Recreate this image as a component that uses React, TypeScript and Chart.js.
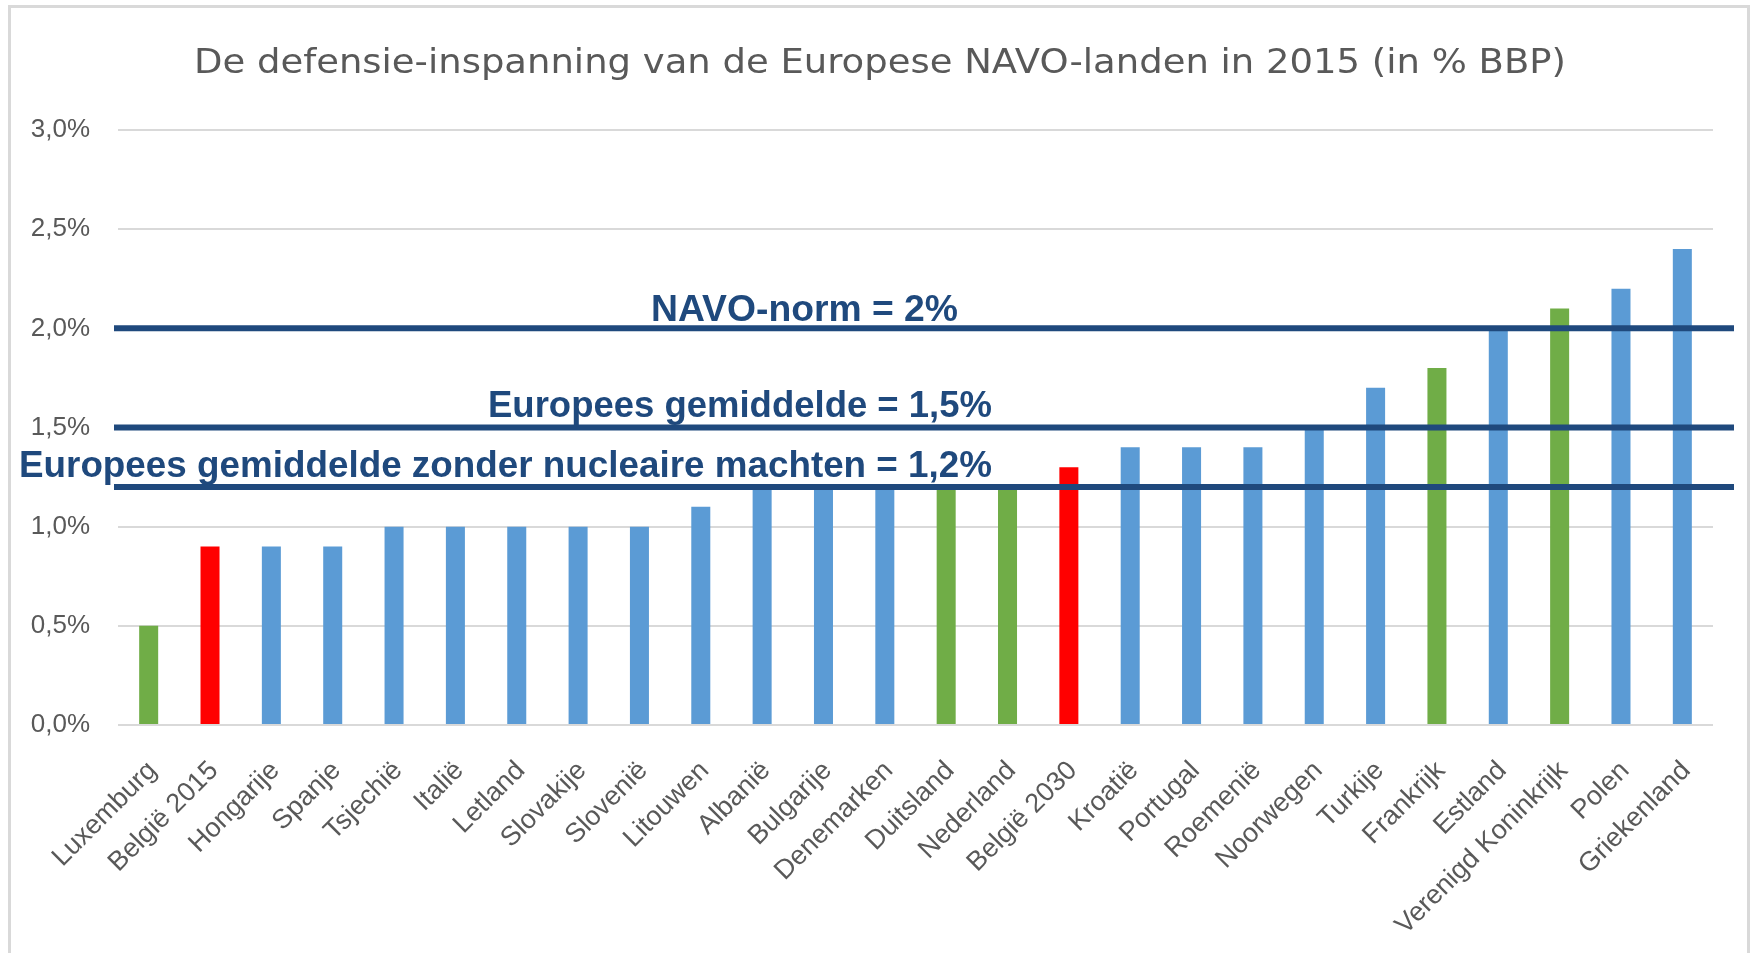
import React, { useEffect, useRef } from "react";
import { Chart, registerables } from "chart.js";

Chart.register(...registerables);

// ---- data ----
const chartTitle = "De defensie-inspanning van de Europese NAVO-landen in 2015 (in % BBP)";

const categories = [
  "Luxemburg", "België 2015", "Hongarije", "Spanje", "Tsjechië", "Italië", "Letland",
  "Slovakije", "Slovenië", "Litouwen", "Albanië", "Bulgarije", "Denemarken", "Duitsland",
  "Nederland", "België 2030", "Kroatië", "Portugal", "Roemenië", "Noorwegen", "Turkije",
  "Frankrijk", "Estland", "Verenigd Koninkrijk", "Polen", "Griekenland",
];

const defenceSpending = [
  0.5, 0.9, 0.9, 0.9, 1.0, 1.0, 1.0,
  1.0, 1.0, 1.1, 1.2, 1.2, 1.2, 1.2,
  1.2, 1.3, 1.4, 1.4, 1.4, 1.5, 1.7,
  1.8, 2.0, 2.1, 2.2, 2.4,
];

const belgiumBars = ["België 2015", "België 2030"];
const comparisonBars = ["Luxemburg", "Duitsland", "Nederland", "Frankrijk", "Verenigd Koninkrijk"];

const referenceValues = [2.0, 1.5, 1.2];
const referenceLabels = [
  "NAVO-norm = 2%",
  "Europees gemiddelde = 1,5%",
  "Europees gemiddelde zonder nucleaire machten = 1,2%",
];

const yTickLabels = ["0,0%", "0,5%", "1,0%", "1,5%", "2,0%", "2,5%", "3,0%"];

// ---- styles ----
const BLUE = "#5B9BD5";
const GREEN = "#70AD47";
const RED = "#FF0000";
const NAVY = "#1F497D";
const GREY_TEXT = "#595959";
const GRID = "#D9D9D9";

// label layout: [right x, offset of baseline above line centre, target width]
const refLabelLayout = [
  [958, 7, 307],
  [992, 11, 504],
  [992, 10, 973],
];

function fillFitted(ctx: CanvasRenderingContext2D, text: string, leftX: number, baseY: number, targetW: number) {
  const w = ctx.measureText(text).width;
  ctx.save();
  ctx.translate(leftX, baseY);
  ctx.scale(targetW / w, 1);
  ctx.textAlign = "left";
  ctx.textBaseline = "alphabetic";
  ctx.fillText(text, 0, 0);
  ctx.restore();
}

const referencePlugin = {
  id: "referenceLines",
  afterDatasetsDraw(chart: any) {
    const { ctx, chartArea, scales } = chart;
    const y = scales.y;
    ctx.save();
    referenceValues.forEach((v) => {
      const py = y.getPixelForValue(v);
      ctx.strokeStyle = NAVY;
      ctx.lineWidth = 6;
      ctx.beginPath();
      ctx.moveTo(chartArea.left - 4, py);
      ctx.lineTo(chartArea.right + 21, py);
      ctx.stroke();
    });
    ctx.fillStyle = NAVY;
    ctx.font = "bold 36px 'Liberation Sans', Arial, sans-serif";
    referenceValues.forEach((v, i) => {
      const py = y.getPixelForValue(v);
      const [rx, off, tw] = refLabelLayout[i];
      fillFitted(ctx, referenceLabels[i], rx - tw, py - off, tw);
    });
    ctx.restore();
  },
};

const titlePlugin = {
  id: "stretchedTitle",
  afterDraw(chart: any) {
    const { ctx } = chart;
    ctx.save();
    ctx.fillStyle = GREY_TEXT;
    ctx.font = "33px 'DejaVu Sans', sans-serif";
    const tw = 1372;
    fillFitted(ctx, chartTitle, 880 - tw / 2, 73, tw);
    ctx.restore();
  },
};

export default function App() {
  const canvasRef = useRef<HTMLCanvasElement | null>(null);

  useEffect(() => {
    if (!canvasRef.current) return;
    Chart.defaults.font.family = "'Liberation Sans', Arial, sans-serif";
    const colors = categories.map((c) =>
      belgiumBars.includes(c) ? RED : comparisonBars.includes(c) ? GREEN : BLUE
    );
    const chart = new Chart(canvasRef.current, {
      type: "bar",
      data: {
        labels: categories,
        datasets: [
          {
            label: chartTitle,
            data: defenceSpending,
            backgroundColor: colors,
            borderWidth: 0,
            barPercentage: 0.31,
            categoryPercentage: 1,
          },
        ],
      },
      options: {
        animation: false,
        responsive: true,
        maintainAspectRatio: false,
        layout: { padding: { top: 130, left: 10, right: 41, bottom: 0 } },
        plugins: {
          legend: { display: false },
          title: { display: false },
          tooltip: { enabled: false },
        },
        scales: {
          x: {
            grid: { display: false, drawTicks: false },
            border: { display: false },
            ticks: {
              color: GREY_TEXT,
              font: { size: 27 },
              minRotation: 45,
              maxRotation: 45,
              autoSkip: false,
              padding: 30,
              labelOffset: 4,
            },
            afterFit: (s: any) => {
              s.height = 228;
            },
          },
          y: {
            min: 0,
            max: 3,
            ticks: {
              stepSize: 0.5,
              color: GREY_TEXT,
              font: { size: 26 },
              padding: 28,
              callback: (_v: any, i: number) => yTickLabels[i],
            },
            grid: { color: GRID, lineWidth: 2, drawTicks: false },
            border: { display: false },
            afterFit: (s: any) => {
              s.width = 108;
            },
          },
        },
      },
      plugins: [referencePlugin, titlePlugin],
    });
    return () => chart.destroy();
  }, []);

  return (
    <div style={{ position: "fixed", left: 0, top: 0, width: 1754, height: 953, overflow: "hidden", background: "#fff" }}>
      <div
        style={{
          position: "absolute",
          left: 8,
          top: 5,
          width: 1742,
          height: 948,
          boxSizing: "border-box",
          borderTop: `3px solid ${GRID}`,
          borderLeft: `3px solid ${GRID}`,
          borderRight: `3px solid ${GRID}`,
        }}
      />
      <div style={{ position: "absolute", left: 0, top: 0, width: 1754, height: 953 }}>
        <canvas ref={canvasRef} />
      </div>
    </div>
  );
}
